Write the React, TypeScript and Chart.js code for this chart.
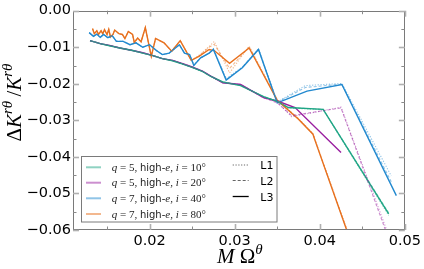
import React, { useEffect, useRef } from 'react';
import { Chart, registerables } from 'chart.js';
Chart.register(...registerables);

// ---------- data ----------
const greenL3X = [0.0130,0.0142,0.0153,0.0165,0.0180,0.0192,0.0204,0.0215,0.0227,0.0239,0.0250,0.0262,0.0272,0.0286,0.0307,0.0334,0.0350,0.0363,0.0404,0.0481];
const greenL3Y = [-0.0082,-0.0090,-0.0096,-0.0102,-0.0109,-0.0116,-0.0123,-0.0131,-0.0137,-0.0146,-0.0155,-0.0166,-0.0180,-0.0195,-0.0205,-0.0235,-0.0248,-0.0265,-0.0270,-0.0556];
const greenL1Y = [-0.0082,-0.0090,-0.0096,-0.0102,-0.0109,-0.0116,-0.0123,-0.0131,-0.0137,-0.0146,-0.0155,-0.0166,-0.0180,-0.0196,-0.0204,-0.0236,-0.0249,-0.0266,-0.0271,-0.0560];
const greenL2Y = [-0.0082,-0.0090,-0.0096,-0.0102,-0.0109,-0.0116,-0.0123,-0.0131,-0.0137,-0.0146,-0.0155,-0.0166,-0.0180,-0.0195,-0.0205,-0.0235,-0.0248,-0.0265,-0.0270,-0.0553];

const purpleL3X = [0.0130,0.0142,0.0153,0.0165,0.0180,0.0192,0.0204,0.0215,0.0227,0.0239,0.0250,0.0262,0.0272,0.0286,0.0307,0.0334,0.0350,0.0371,0.0425];
const purpleL3Y = [-0.0082,-0.0090,-0.0095,-0.0102,-0.0109,-0.0115,-0.0123,-0.0131,-0.0136,-0.0145,-0.0154,-0.0165,-0.0179,-0.0197,-0.0202,-0.0238,-0.0247,-0.0265,-0.0388];
const purpleL1X = [0.0130,0.0142,0.0153,0.0165,0.0180,0.0192,0.0204,0.0215,0.0227,0.0239,0.0250,0.0262,0.0272,0.0286,0.0307,0.0334,0.0350,0.0367,0.0425,0.0485];
const purpleL1Y = [-0.0082,-0.0090,-0.0095,-0.0102,-0.0109,-0.0115,-0.0123,-0.0131,-0.0136,-0.0145,-0.0154,-0.0165,-0.0179,-0.0197,-0.0202,-0.0238,-0.0250,-0.0290,-0.0264,-0.0640];
const purpleL2Y = [-0.0082,-0.0090,-0.0095,-0.0102,-0.0109,-0.0115,-0.0123,-0.0131,-0.0136,-0.0145,-0.0154,-0.0165,-0.0179,-0.0197,-0.0202,-0.0238,-0.0252,-0.0287,-0.0266,-0.0650];

const blueL3X = [0.0129,0.0134,0.0138,0.0142,0.0146,0.0151,0.0156,0.0161,0.0169,0.0177,0.0184,0.0192,0.0200,0.0208,0.0215,0.0223,0.0235,0.0241,0.0247,0.0252,0.0260,0.0270,0.0275,0.0290,0.0309,0.0328,0.0350,0.0385,0.0426,0.0490];
const blueL3Y = [-0.0060,-0.0070,-0.0064,-0.0073,-0.0065,-0.0074,-0.0068,-0.0084,-0.0084,-0.0093,-0.0088,-0.0100,-0.0093,-0.0109,-0.0120,-0.0116,-0.0093,-0.0116,-0.0120,-0.0150,-0.0129,-0.0116,-0.0106,-0.0190,-0.0156,-0.0106,-0.0252,-0.0220,-0.0202,-0.0506];
const blueL1X = [0.0129,0.0134,0.0138,0.0142,0.0146,0.0151,0.0156,0.0161,0.0169,0.0177,0.0184,0.0192,0.0200,0.0208,0.0215,0.0223,0.0235,0.0241,0.0247,0.0252,0.0260,0.0270,0.0275,0.0290,0.0309,0.0328,0.0350,0.0383,0.0426,0.0484];
const blueL1Y = [-0.0060,-0.0070,-0.0064,-0.0073,-0.0065,-0.0074,-0.0068,-0.0084,-0.0084,-0.0093,-0.0088,-0.0100,-0.0093,-0.0109,-0.0120,-0.0116,-0.0093,-0.0116,-0.0120,-0.0148,-0.0129,-0.0116,-0.0104,-0.0186,-0.0154,-0.0104,-0.0250,-0.0205,-0.0199,-0.0452];
const blueL2Y = [-0.0060,-0.0070,-0.0064,-0.0073,-0.0065,-0.0074,-0.0068,-0.0084,-0.0084,-0.0093,-0.0088,-0.0100,-0.0093,-0.0109,-0.0120,-0.0116,-0.0093,-0.0116,-0.0120,-0.0149,-0.0129,-0.0116,-0.0105,-0.0188,-0.0155,-0.0105,-0.0251,-0.0210,-0.0201,-0.0468];

const orangeL3X = [0.0133,0.0135,0.0138,0.0140,0.0143,0.0145,0.0147,0.0150,0.0152,0.0154,0.0157,0.0159,0.0164,0.0168,0.0171,0.0175,0.0180,0.0182,0.0186,0.0190,0.0195,0.0202,0.0207,0.0212,0.0217,0.0226,0.0236,0.0249,0.0258,0.0270,0.0276,0.0294,0.0317,0.0350,0.0375,0.0392,0.0394,0.0436];
const orangeL3Y = [-0.0049,-0.0063,-0.0055,-0.0065,-0.0055,-0.0063,-0.0052,-0.0065,-0.0051,-0.0072,-0.0065,-0.0053,-0.0063,-0.0065,-0.0076,-0.0057,-0.0065,-0.0087,-0.0075,-0.0085,-0.0046,-0.0125,-0.0076,-0.0082,-0.0088,-0.0111,-0.0082,-0.0136,-0.0125,-0.0106,-0.0109,-0.0144,-0.0102,-0.0245,-0.0297,-0.0338,-0.0352,-0.0629];
const orangeL1Y = [-0.0049,-0.0063,-0.0055,-0.0065,-0.0055,-0.0063,-0.0052,-0.0065,-0.0051,-0.0072,-0.0065,-0.0053,-0.0063,-0.0065,-0.0076,-0.0057,-0.0065,-0.0087,-0.0075,-0.0085,-0.0046,-0.0125,-0.0076,-0.0082,-0.0088,-0.0111,-0.0082,-0.0136,-0.0122,-0.0098,-0.0084,-0.0170,-0.0097,-0.0243,-0.0295,-0.0336,-0.0350,-0.0625];
const orangeL2Y = [-0.0049,-0.0063,-0.0055,-0.0065,-0.0055,-0.0063,-0.0052,-0.0065,-0.0051,-0.0072,-0.0065,-0.0053,-0.0063,-0.0065,-0.0076,-0.0057,-0.0065,-0.0087,-0.0075,-0.0085,-0.0046,-0.0125,-0.0076,-0.0082,-0.0088,-0.0111,-0.0082,-0.0136,-0.0124,-0.0100,-0.0092,-0.0158,-0.0099,-0.0244,-0.0296,-0.0337,-0.0351,-0.0627];

const legendQ = ['5', '5', '7', '7'];
const legendI = ['10', '20', '40', '80'];
const styleLabels = ['L1', 'L2', 'L3'];

const xMajorTicks = [0.02, 0.03, 0.04, 0.05];
const xMinorTicks = [0.015, 0.025, 0.035, 0.045];
const yMajorTicks = [0, -0.01, -0.02, -0.03, -0.04, -0.05, -0.06];
const yMinorTicks = [-0.005, -0.015, -0.025, -0.035, -0.045, -0.055];

const COLORS = ['#1fa685', '#9a1fa0', '#2289cf', '#e8711f'];
const FADED = ['rgba(31,166,133,0.5)', 'rgba(154,31,160,0.5)', 'rgba(34,137,207,0.5)', 'rgba(232,113,31,0.5)'];
const DASH: Record<string, number[]> = { L1: [1.2, 1.6], L2: [3, 2], L3: [] };

const seriesList = [
  { c: 0, s: 'L1', xs: greenL3X, ys: greenL1Y },
  { c: 0, s: 'L2', xs: greenL3X, ys: greenL2Y },
  { c: 1, s: 'L1', xs: purpleL1X, ys: purpleL1Y },
  { c: 1, s: 'L2', xs: purpleL1X, ys: purpleL2Y },
  { c: 2, s: 'L1', xs: blueL1X, ys: blueL1Y },
  { c: 2, s: 'L2', xs: blueL1X, ys: blueL2Y },
  { c: 3, s: 'L1', xs: orangeL3X, ys: orangeL1Y },
  { c: 3, s: 'L2', xs: orangeL3X, ys: orangeL2Y },
  { c: 0, s: 'L3', xs: greenL3X, ys: greenL3Y },
  { c: 1, s: 'L3', xs: purpleL3X, ys: purpleL3Y },
  { c: 2, s: 'L3', xs: blueL3X, ys: blueL3Y },
  { c: 3, s: 'L3', xs: orangeL3X, ys: orangeL3Y },
];

const fmt = (v: number) => {
  const s = Math.abs(v).toFixed(2);
  return v < -1e-9 ? '\u2212' + s : s;
};

type Seg = { t: string; f: string; dy?: number };
const SERIF = '"Liberation Serif", "DejaVu Serif", serif';
const SANS = '"DejaVu Sans", sans-serif';

function drawSegs(ctx: CanvasRenderingContext2D, segs: Seg[], x: number, y: number) {
  let cx = x;
  for (const s of segs) {
    ctx.font = s.f;
    ctx.fillText(s.t, cx, y + (s.dy || 0));
    cx += ctx.measureText(s.t).width;
  }
  return cx;
}
function segsWidth(ctx: CanvasRenderingContext2D, segs: Seg[]) {
  let w = 0;
  for (const s of segs) { ctx.font = s.f; w += ctx.measureText(s.t).width; }
  return w;
}

const decorPlugin = {
  id: 'decor',
  afterDatasetsDraw(chart: any) {
    const { ctx, chartArea: a, scales } = chart;
    const x = scales.x, y = scales.y;
    ctx.save();
    // frame
    ctx.strokeStyle = '#7a7a7a';
    ctx.lineWidth = 1;
    ctx.strokeRect(Math.round(a.left) + 0.5, Math.round(a.top) + 0.5, Math.round(a.right - a.left) - 1, Math.round(a.bottom - a.top) - 1);
    const tick = (x1: number, y1: number, x2: number, y2: number) => {
      ctx.beginPath(); ctx.moveTo(x1, y1); ctx.lineTo(x2, y2); ctx.stroke();
    };
    const drawX = (vals: number[], len: number, lw: number, col: string) => {
      ctx.strokeStyle = col; ctx.lineWidth = lw;
      for (const v of vals) {
        const px = Math.round(x.getPixelForValue(v)) + 0.5;
        tick(px, a.bottom, px, a.bottom - len);
        tick(px, a.top, px, a.top + len);
      }
    };
    const drawY = (vals: number[], len: number, lw: number, col: string) => {
      ctx.strokeStyle = col; ctx.lineWidth = lw;
      for (const v of vals) {
        const py = Math.round(y.getPixelForValue(v)) + 0.5;
        tick(a.left, py, a.left + len, py);
        tick(a.right, py, a.right - len, py);
      }
    };
    drawX(xMajorTicks, 6, 1.6, '#b0b0b0');
    drawX(xMinorTicks, 3.5, 1, '#8a8a8a');
    drawY(yMajorTicks, 6, 1.6, '#b0b0b0');
    drawY(yMinorTicks, 3.5, 1, '#8a8a8a');

    // legend
    const bx = 81.5, by = 156.5, bw = 195.5, bh = 65.5;
    ctx.fillStyle = 'rgba(255,255,255,0.9)';
    ctx.fillRect(bx, by, bw, bh);
    ctx.strokeStyle = '#7a7a7a'; ctx.lineWidth = 1;
    ctx.strokeRect(bx, by, bw, bh);
    const rowsY = [167.3, 182.7, 198.3, 214];
    ctx.textBaseline = 'alphabetic';
    ctx.textAlign = 'left';
    for (let i = 0; i < 4; i++) {
      const yy = rowsY[i];
      ctx.strokeStyle = FADED[i]; ctx.lineWidth = 2; ctx.setLineDash([]);
      tick(86, yy, 101, yy);
      ctx.fillStyle = '#222';
      const it = `italic 11px ${SERIF}`, rm = `11px ${SERIF}`, sn = `10px ${SANS}`;
      drawSegs(ctx, [
        { t: 'q', f: it }, { t: ' = ' + legendQ[i] + ', ', f: rm }, { t: 'high-', f: sn },
        { t: 'e', f: it }, { t: ', ', f: rm }, { t: 'i', f: it }, { t: ' = ' + legendI[i] + '\u00b0', f: rm },
      ], 111.7, yy + 3.5);
    }
    const styleY = [164.5, 180, 196];
    for (let i = 0; i < 3; i++) {
      const yy = styleY[i] + 0.5;
      const s = styleLabels[i];
      ctx.strokeStyle = s === 'L3' ? '#000' : '#666';
      ctx.lineWidth = s === 'L3' ? 1.3 : 1;
      ctx.setLineDash(DASH[s]);
      tick(232.7, yy, 248.7, yy);
      ctx.setLineDash([]);
      ctx.fillStyle = '#000';
      ctx.font = `11px ${SANS}`;
      ctx.fillText(s, 260.3, yy + 4);
    }
    ctx.restore();
  },
  afterDraw(chart: any) {
    const { ctx } = chart;
    ctx.save();
    ctx.fillStyle = '#000';
    ctx.textAlign = 'left';
    ctx.textBaseline = 'alphabetic';
    // y title
    const big = 21, sm = 15;
    const yt: Seg[] = [
      { t: '\u0394', f: `${big}px ${SERIF}` },
      { t: 'K', f: `italic ${big}px ${SERIF}` },
      { t: 'r\u03b8', f: `italic ${sm}px ${SERIF}`, dy: -9 },
      { t: '\u2009/', f: `${big}px ${SERIF}` },
      { t: 'K', f: `italic ${big}px ${SERIF}` },
      { t: 'r\u03b8', f: `italic ${sm}px ${SERIF}`, dy: -9 },
    ];
    const w = segsWidth(ctx, yt);
    ctx.translate(21, 102.5);
    ctx.rotate(-Math.PI / 2);
    drawSegs(ctx, yt, -w / 2, 0);
    ctx.setTransform(1, 0, 0, 1, 0, 0);
    // x title
    drawSegs(ctx, [
      { t: 'M', f: `italic ${big}px ${SERIF}` },
      { t: ' \u03a9', f: `${big}px ${SERIF}` },
      { t: '\u03b8', f: `italic ${sm}px ${SERIF}`, dy: -9 },
    ], 217, 263);
    ctx.restore();
  },
};

export default function App() {
  const ref = useRef<HTMLCanvasElement | null>(null);
  useEffect(() => {
    document.body.style.margin = '0';
    const canvas = ref.current!;
    const datasets = seriesList.map((s) => ({
      data: s.xs.map((xv, i) => ({ x: xv, y: s.ys[i] })),
      borderColor: s.s === 'L3' ? COLORS[s.c] : FADED[s.c],
      borderWidth: s.s === 'L3' ? 1.4 : 1.1,
      borderDash: DASH[s.s],
      pointRadius: 0,
      tension: 0,
      fill: false,
    }));
    const chart = new Chart(canvas, {
      type: 'line',
      data: { datasets },
      plugins: [decorPlugin],
      options: {
        animation: false,
        responsive: false,
        maintainAspectRatio: false,
        parsing: false as any,
        layout: { padding: { left: 0, top: 9, right: 19, bottom: 0 } },
        plugins: { legend: { display: false }, tooltip: { enabled: false } },
        scales: {
          x: {
            type: 'linear', min: 0.011, max: 0.05,
            afterBuildTicks: (s: any) => { s.ticks = xMajorTicks.map((v) => ({ value: v })); },
            afterFit: (s: any) => { s.height = 39; },
            grid: { display: false, drawTicks: false },
            border: { display: false },
            ticks: {
              autoSkip: false, maxRotation: 0, padding: 3, color: '#000',
              font: { family: 'DejaVu Sans', size: 14.5 },
              callback: (v: any) => fmt(Number(v)),
            },
          },
          y: {
            type: 'linear', min: -0.06, max: 0,
            afterBuildTicks: (s: any) => { s.ticks = yMajorTicks.map((v) => ({ value: v })); },
            afterFit: (s: any) => { s.width = 73; },
            grid: { display: false, drawTicks: false },
            border: { display: false },
            ticks: {
              autoSkip: false, padding: 2, color: '#000',
              font: { family: 'DejaVu Sans', size: 14.5 },
              callback: (v: any) => fmt(Number(v)),
            },
          },
        },
      } as any,
    });
    return () => chart.destroy();
  }, []);
  return (
    <div style={{ width: 424, height: 269 }}>
      <canvas ref={ref} width={424} height={269} style={{ display: 'block' }} />
    </div>
  );
}
